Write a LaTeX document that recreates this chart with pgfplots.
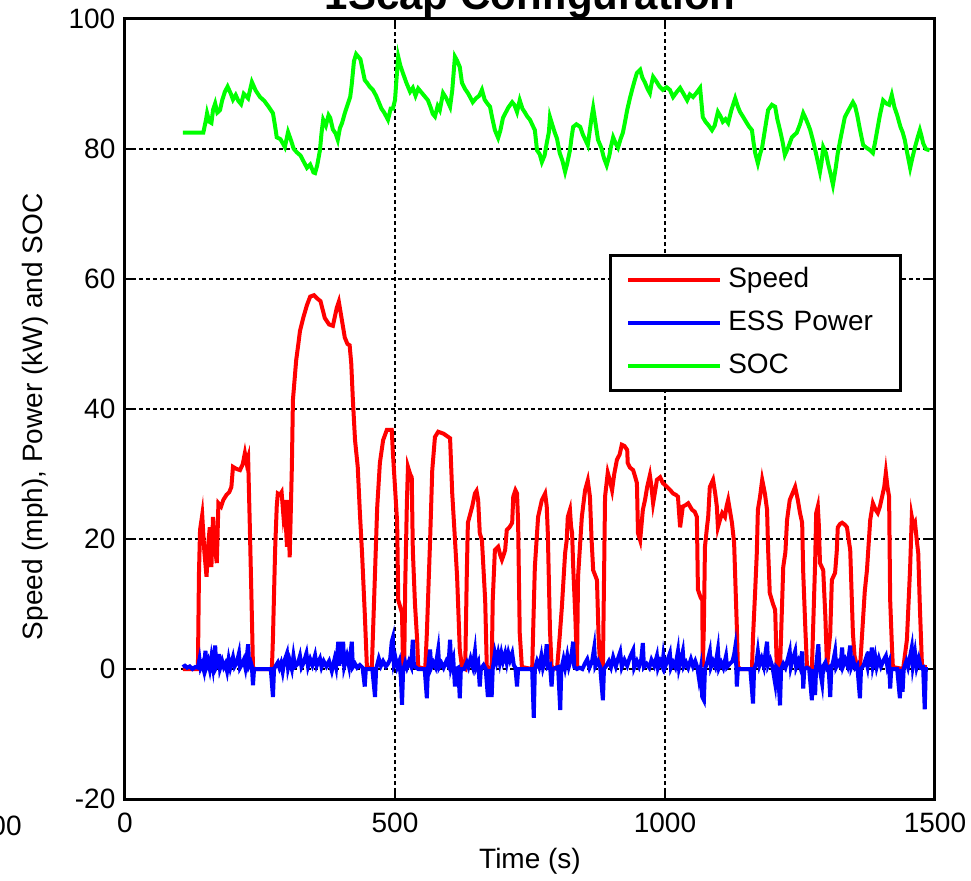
\documentclass[border=0pt]{standalone}
\usepackage{fontspec}
\setmainfont{Liberation Sans}
\usepackage{pgfplots}
\pgfplotsset{compat=1.18}
\usetikzlibrary{calc}

\definecolor{mred}{RGB}{255,0,0}
\definecolor{mblue}{RGB}{0,0,255}
\definecolor{mgreen}{RGB}{0,255,0}

\pgfplotstableread{
t v
107 0
135 0
137 14.8
139 21.4
143 23.7
147 18
151 14.2
154 19
157 21.8
160 15.7
163 23.4
166 19
170 16.3
173 25.5
178 25
182 26
188 26.8
193 27.2
197 28
200 31.1
206 30.8
213 30.6
218 31.5
222 33.2
225 31.8
228 32.6
231 22.5
235 8
237 0.3
240 0
272 0
274 4.8
278 18.3
281 25
283 27
287 26.8
290 27.2
293 24
296 26
298 22
300 18.8
302 26
305 17.2
309 31.1
311 41.4
317 47.5
321 50
324 52
330 54
337 56
343 57.3
350 57.5
356 57
362 56.6
370 54
378 53
385 52.8
392 55.5
396 56.5
400 54.5
403 53
407 51
412 50
416 49.8
419 47
422 41.4
426 35.2
431 31.1
435 24
439 17.8
444 8.6
448 0.3
457 0
463 14.8
467 24.8
472 31.7
478 35.2
485 36.8
494 36.8
496 33.4
500 28
504 22.5
506 10.6
513 8.6
515 0.3
517 0.3
519 13.2
522 25.5
524 31.1
528 30
531 29.5
533 18.3
537 10
541 4.5
543 0.3
556 0
559 5.5
565 19.8
569 30.6
574 35.7
580 36.5
590 36.2
602 35.5
606 27
611 20
615 14.2
620 2.9
624 0.3
630 0
633 14.8
635 22.5
643 25
648 27
651 27.4
654 26
657 20.9
661 19.8
667 10.6
670 0.3
679 0
681 10.6
685 18.3
691 18.8
695 17.5
698 16.8
701 17.5
704 18.3
707 21.4
712 21.8
717 22.5
719 26.5
723 27.5
726 27
728 22.5
731 5.5
735 0.3
754 0
759 15.7
765 23.4
772 26
778 27
781 25
783 20.9
787 6
790 0.3
800 0
805 5
809 9.5
815 17.8
818 19.8
820 23.4
824 24.5
826 22
828 20.9
830 15.7
834 8
837 0.3
839 14.2
846 23.4
852 27.5
857 29
861 26.5
864 20
867 15.2
874 13.7
877 5
880 0.3
885 0
889 26.5
894 30.2
898 29
902 27.5
906 30
911 32.2
916 33
920 34.5
925 34.3
930 33.7
931 31.7
935 31
941 30.6
945 29.5
948 28.6
950 20.9
954 19.8
959 24.5
963 26
967 28
972 29.8
975 28
978 25.5
982 27.5
985 29.1
991 29.5
996 28.6
1004 28
1010 27.5
1015 27
1020 26.8
1024 26.5
1028 21.8
1033 25
1038 25.2
1043 25.5
1050 24.5
1055 24.2
1059 23.4
1061 12.2
1066 11
1069 10.6
1070 0.3
1072 6.5
1074 18.8
1078 22
1080 23.4
1083 28
1089 29.1
1093 27
1096 25
1098 21.8
1102 23
1106 24
1111 23.4
1114 25
1117 26
1121 24
1124 22.5
1128 19.4
1133 6.5
1135 0.3
1140 0
1161 0
1163 4.9
1167 12
1170 17.8
1172 24.5
1176 26.5
1180 29.1
1185 27
1189 24.5
1191 18.3
1194 11.7
1200 10
1204 9.1
1207 0.3
1213 0
1219 15.7
1223 18
1226 22.9
1231 26
1236 27
1241 28
1246 26
1250 24
1254 22.5
1256 14.8
1260 6
1263 0.3
1272 0
1278 16.3
1280 24
1283 25
1285 22
1287 16.3
1293 15.2
1297 8
1300 0.3
1306 5.5
1309 13.7
1315 14.8
1318 18
1320 21.8
1324 22.3
1328 22.5
1333 22.2
1337 21.8
1340 20
1343 18.3
1348 5.5
1351 2
1356 0.3
1361 0
1367 8
1370 12
1374 15.2
1380 22.9
1385 25.5
1390 24.5
1394 24
1398 25
1402 26.5
1406 28
1409 30.2
1412 28
1415 26.5
1417 10.6
1420 4
1422 0.3
1441 0
1448 4.5
1454 15.7
1457 23.4
1460 22
1463 22.5
1466 20
1469 17.8
1472 9.5
1476 0.3
1485 0.3
}\speed

\pgfplotstableread{
t p
107 0.3
111 0.5
115 0.2
120 0.4
125 0
130 0.3
135 0.2
138 1.5
140 0.2
143 0.8
146 -0.2
149 2.8
151 0.4
154 1.2
157 0
160 1.8
163 0.2
167 3.6
169 0.3
172 0.8
174 2.3
176 0.1
180 1.2
183 0.3
186 0.8
189 -0.3
192 1.5
195 0.2
200 1.8
203 0.4
207 1
211 2.4
213 0.2
217 0.8
220 1.4
223 0.2
226 2.2
228 3.8
230 0.5
233 1
235 0.4
237 -2.5
239 0
255 0
270 0
274 -4.3
276 0
280 0.6
283 1
286 0.2
289 0.9
292 -0.4
295 1.2
300 2.4
302 0.2
305 1.3
309 0
312 2
315 0.4
320 0.8
324 2
327 0.3
331 1
336 2.4
339 0.4
343 1.5
347 0.6
352 2.1
355 0.5
361 1.6
364 0.3
368 1.2
373 0.4
378 1.2
383 -0.3
388 1.5
391 0.3
395 4.2
397 0.5
400 4.2
402 0.8
404 4.2
406 0.4
411 2
415 0.4
420 4.2
422 0.3
426 0.8
430 0.2
435 0.6
440 0.2
444 -2.7
446 0
458 0
463 -4.3
465 0
470 1.6
474 0.5
478 1.2
483 0.4
487 0.8
491 1.5
494 4.2
496 4.8
498 0.8
501 1.6
504 0.3
508 1.2
511 -1.5
513 -5.5
515 -0.3
519 1
522 0.2
526 1.2
530 0.4
533 4.5
535 0.5
539 0.2
543 0
555 0
559 -4.5
561 0
565 3
567 0.2
571 1
575 0.3
580 3
582 0.3
586 0.9
590 0.2
595 1.2
599 0.5
602 4.5
604 0.3
608 1.5
611 -2.7
613 0
617 0.2
620 -4.5
622 0
628 0
633 1
636 0.3
640 1.6
644 0.4
648 2.7
650 0.2
654 1
657 -2.7
659 0
664 0.6
668 0
672 -4.3
674 0
679 -4.3
681 0
685 2.4
688 1.2
691 2.4
694 1
697 2.4
700 1.2
704 2.4
707 1
710 2.4
713 1.4
717 2.4
720 0.6
723 0.2
726 -2.7
728 0
754 0
757 -7.5
759 0
763 1.2
767 0.3
771 2
774 0.2
778 1.4
781 3.8
783 0.3
787 0.6
790 -2.7
792 0
802 0.3
806 -6.3
808 0
812 1.5
815 0.2
819 2
822 0.4
826 1.6
830 4.2
832 0.3
837 0
842 0.2
847 0
852 0.9
856 1.5
860 0.2
865 1.2
869 3.3
871 0.4
876 1.2
880 0.3
885 -4.8
887 0
892 0.6
896 1.2
900 0.3
904 1.8
909 0.4
913 1.6
917 2.6
920 0.3
925 1.4
930 0.5
935 1.8
941 2.9
943 0.2
948 1.2
952 0.4
956 1.5
959 4
961 0.3
966 0.8
971 0.2
975 1.4
980 0.5
985 2
987 0.2
991 1.2
995 0.4
997 2
1000 0.3
1004 1.2
1009 2.4
1011 0.2
1015 1
1019 0.3
1024 2.7
1026 0.2
1030 1.6
1033 2.7
1035 0.4
1039 1
1043 0.2
1048 1.5
1052 0.4
1056 1.2
1060 0.2
1063 -1.5
1066 0
1069 -4.3
1072 -4.8
1074 0
1078 1
1083 2.7
1085 0.3
1089 1.2
1093 0.4
1098 3
1100 0.2
1104 1
1108 0.2
1113 2
1115 0.3
1120 0.8
1125 1.2
1128 2.2
1130 3.3
1132 0.5
1133 -2.7
1135 0
1158 0
1163 -5.3
1165 0
1169 0.8
1172 2.7
1175 0.6
1179 1.6
1183 0.4
1186 2.4
1189 4.2
1191 0.6
1195 1.4
1199 0.3
1204 -2.2
1206 0.3
1209 0
1213 -5.6
1215 0
1219 0.8
1223 0.2
1227 1.4
1231 2.7
1233 0.3
1237 1.6
1241 2.7
1243 0.3
1247 1.2
1250 0.4
1254 2.7
1256 -3
1258 0
1263 0.2
1267 0
1272 -4.8
1274 0
1278 -4
1280 0.5
1284 3.8
1286 0.3
1291 -2.2
1293 0.4
1297 1
1300 0
1303 0.2
1306 -4.3
1308 0
1312 1.4
1315 2.7
1317 0.3
1321 1
1325 0.4
1328 3.3
1330 0.5
1334 1.4
1338 0.5
1343 3.6
1345 0.3
1349 1.2
1352 0.2
1356 0.6
1361 -4.5
1363 0
1368 0.6
1372 1.6
1375 0.4
1378 2.7
1380 0.3
1383 3.3
1385 0.5
1389 2
1392 0.3
1396 1.6
1400 0.4
1404 1.2
1409 2
1412 0.3
1415 1
1417 -3
1419 0
1430 0
1435 -4.5
1437 0
1440 -3.5
1442 0
1447 1.2
1450 0.3
1454 2
1457 3.3
1459 0.5
1463 2.5
1466 0.3
1470 1.6
1474 0.2
1478 0.3
1481 -6.2
1483 0
1487 0
}\power

\pgfplotstableread{
t s
107 82.5
120 82.5
145 82.5
150 84.5
152 85.5
156 84.2
160 84
163 86
167 87
171 85.6
176 86
180 87.5
185 88.8
190 89.6
196 88.5
200 87.6
205 88.3
210 87.4
215 86.9
220 88.5
228 87.8
235 90.3
242 89
250 88
258 87.4
266 86.5
274 85.5
278 83.5
281 81.8
288 81.5
296 80.3
302 82.6
308 81.2
312 80.1
318 79.5
325 79
330 78.2
337 77.1
343 77.6
349 76.4
352 76.3
356 77.5
361 79.8
364 82.5
367 84.5
372 83.6
377 85.2
380 84.8
385 83
390 82.4
394 81.4
398 83.2
402 84
407 85.5
411 86.5
417 88
420 90
424 93.5
428 94.6
432 94.2
436 93.8
440 92.2
444 90.6
448 90.2
453 89.6
459 89.1
465 88.2
470 87.2
475 86.2
480 85.6
487 84.5
492 86.2
496 86.2
500 87.5
503 91
506 94.2
510 92.8
515 91.6
521 90.2
528 88.8
533 89.4
538 88.2
543 89.3
550 88.6
556 88
561 87.5
566 86.4
570 85.4
574 85
579 86.6
583 86
589 88.6
595 87.8
602 86.5
606 89
611 94.2
615 93.6
620 92.6
624 90.2
630 89.2
635 88.6
639 88
644 87.2
650 87.8
656 88.2
661 89.1
666 87.6
671 87
676 86.5
680 84.8
685 82.9
691 81.7
695 82.8
700 84.8
705 85.6
710 86.4
717 87.2
721 86.8
726 85.7
731 87.5
736 86.2
740 85.7
745 85
750 84.5
755 83.6
759 82.9
763 79.8
768 79.2
772 78
777 79
781 80.9
785 82.6
787 84.9
791 83.8
796 82.5
800 81.6
805 79.4
810 78.2
815 76.5
819 77.8
824 79.8
827 81.8
830 83.4
836 83.8
843 83.4
848 82.2
852 81.5
857 80.6
860 82.4
864 84.8
867 86.3
872 83.6
876 81.4
882 80.2
887 78.6
892 77.5
897 79
900 80.4
904 81.8
909 80.8
913 80.2
918 81.6
922 82.5
926 84.2
930 86
935 87.8
940 89.4
944 90.6
948 91.7
954 92.2
958 91
963 90.2
968 89.2
972 88.6
975 90
978 91.1
984 90.4
990 89.6
996 89.1
1003 89.5
1009 89.1
1015 88
1022 88.8
1028 89.4
1035 88.4
1041 87.5
1046 88.4
1052 88
1058 88.6
1065 89.4
1070 84.9
1075 84.2
1081 83.6
1087 82.9
1092 83.6
1098 85.7
1103 85
1107 84.2
1112 84.6
1117 84
1123 86
1130 87.8
1135 86.5
1139 85.7
1145 84.9
1150 84.2
1156 83.4
1161 82.9
1164 81
1167 79.4
1172 77.8
1176 79.2
1180 80.3
1184 82.4
1188 84.5
1191 86
1198 86.8
1204 86.5
1208 84.6
1213 82.9
1218 81
1222 79.1
1228 80.2
1235 81.8
1240 82.2
1244 82.5
1250 83.8
1256 85.5
1260 84.8
1265 83.8
1269 82.9
1275 81
1281 78.8
1287 76.5
1290 78
1293 80.3
1298 79.4
1302 77.8
1306 76.4
1311 74.5
1316 77
1320 79.4
1326 82
1333 84.9
1340 86
1348 87.2
1352 86.6
1356 85.2
1361 83
1367 80.6
1373 80.2
1380 79.8
1385 79.4
1389 81
1393 82.9
1398 85.2
1404 87.5
1410 87
1415 86.8
1420 88.3
1425 86.4
1430 85.2
1436 83.4
1440 82.6
1444 81.4
1449 79.2
1454 77.1
1458 78.6
1463 80.3
1468 81.8
1472 82.9
1475 82
1478 80.9
1483 80
1490 79.8
}\soc

\begin{document}
\begin{tikzpicture}
\begin{axis}[
  name=ax,
  scale only axis,
  width=405pt, height=390pt,
  xmin=0, xmax=1500, ymin=-20, ymax=100,
  xtick={0,500,1000,1500},
  ytick={-20,0,20,40,60,80,100},
  /pgf/number format/assume math mode=true,
  /pgf/number format/1000 sep={},
  tick label style={font=\fontsize{14}{16}\selectfont},
  xticklabel style={yshift=-3.3pt},
  yticklabel style={xshift=-1.3pt},
  tick align=inside,
  major tick length=4pt,
  tick style={black, line width=0.8pt},
  axis line style={line width=1.5pt},
  grid=major,
  major grid style={black, line width=0.8pt, dash pattern=on 2pt off 1.5pt},
  xlabel={Time (s)},
  ylabel={Speed (mph), Power (kW) and SOC},
  label style={font=\fontsize{14}{16}\selectfont},
  xlabel style={at={(axis description cs:0.5,-0.08)}, anchor=center},
  ylabel style={at={(axis description cs:-0.111,0.49)}, anchor=center},
  title={1Scap Configuration},
  title style={at={(axis description cs:0.5,1)}, anchor=base, yshift=-1.5pt,
    font=\bfseries\fontsize{21}{25}\selectfont},
  legend image code/.code={\draw[#1] (0pt,0pt) -- (46pt,0pt);},
  legend style={at={(axis description cs:0.959,0.699)}, anchor=north east,
    draw=black, line width=1.5pt, fill=white,
    font=\fontsize{14}{16}\selectfont,
    inner xsep=8pt, inner ysep=5.5pt, row sep=8pt, column sep=3pt,
    nodes={inner sep=0pt, text height=10.5pt, text depth=3pt,
      text width=78pt, align=left}},
  legend cell align=left,
  clip=true,
]
\addplot[mred, line width=2pt] table[x=t, y=v] {\speed};
\addplot[mblue, line width=2pt] table[x=t, y=p] {\power};
\addplot[mgreen, line width=2pt] table[x=t, y=s] {\soc};
\legend{Speed, ESS Power, SOC}
\end{axis}
\node[anchor=base east, inner sep=0pt, font=\fontsize{14}{16}\selectfont]
  at ($(ax.south west)+(-51.5pt,-18pt)$) {500};
\pgfresetboundingbox
\useasboundingbox ($(ax.south west)+(-62.5pt,-40.5pt)$) rectangle ($(ax.north east)+(18pt,9.5pt)$);
\end{tikzpicture}
\end{document}
